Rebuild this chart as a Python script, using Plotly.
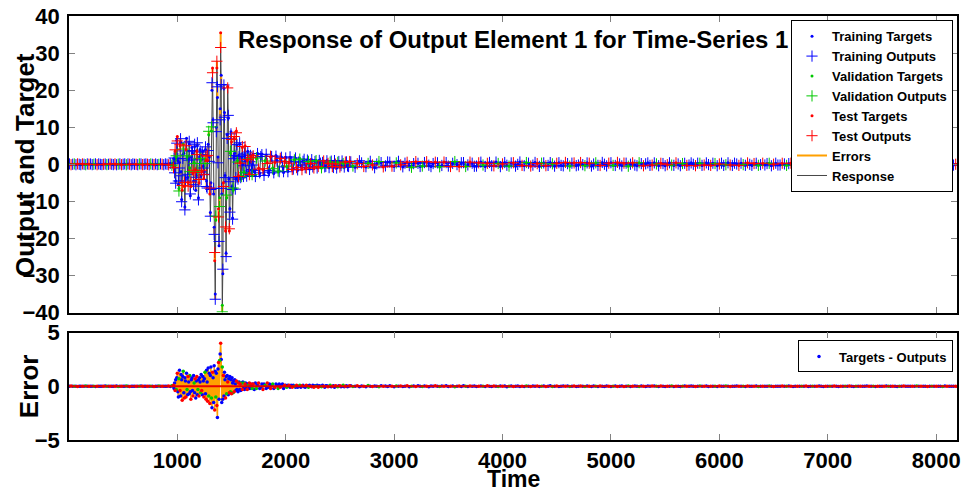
import plotly.graph_objects as go

# ---------------- data ----------------
# time grids of the sampled segments
time_pre = list(range(5, 951, 15))         # 64 samples, quiet start
time_burst = list(range(960, 1696, 5))     # 148 samples, strong motion
time_mid = list(range(1700, 2591, 10))     # 90 samples, decay
time_tail = list(range(2600, 8181, 20))    # 280 samples, quiet tail

target_pre = [0.1, -0.1, 0.0, 0.1, -0.1, 0.1, 0.0, -0.1, 0.1, 0.0, -0.1, 0.1, 0.0, 0.1, -0.1, 0.0,
              0.1, -0.1, 0.1, 0.0, -0.1, 0.0, 0.1, -0.1, 0.0, 0.1, 0.0, -0.1, 0.1, -0.1, 0.0, 0.1,
              -0.1, 0.0, 0.1, -0.1, 0.1, 0.0, -0.1, 0.1, 0.0, 0.0, -0.1, 0.1, 0.1, -0.1, 0.0, 0.1,
              0.0, -0.1, 0.1, 0.0, -0.1, 0.1, -0.1, 0.0, 0.1, 0.0, -0.1, 0.1, 0.0, -0.1, 0.2, -0.2]

target_burst = [0.3, -0.8, 1.5, -2.0, 3.5, -4.5, 2.0, 6.5,
                7.5, 1.0, -5.5, -6.5, 0.5, 5.0, 6.0, -2.0, -9.5, -7.0, 2.5, 5.5, 3.0, -6.0, -11.5, -4.0, 4.0, 7.0, 2.0, -3.5,
                -5.0, 1.5, 5.5, -1.0, -8.5, -6.0, 2.0, 4.5, 3.0, -2.5, -4.5, 0.5, 4.8, -1.5, -7.0, -3.0, 3.5, 5.0, -2.0, -9.0,
                -5.0, 2.0, 4.0, 1.0, -3.0, -2.0, 2.5, 3.5, -0.5, -3.8, -2.0, 1.5, 4.0, 1.0, -4.5, -6.0, 1.0, 5.4, 8.0, 2.0,
                -8.0, -13.0, -5.0, 9.0, 20.0, 26.0, 12.0, -8.0, -17.0, -26.0, -35.0, -15.0, 10.0, 26.0, 18.0, 2.0, -12.0, -22.0, -9.0, 15.0,
                35.5, 24.0, -8.0, -38.0, -29.5, -5.0, 20.5, 14.0, -3.0, -18.0, -24.0, -9.0, 8.0, 21.0, 12.4, -4.0, -18.0, -12.0, 3.0, 8.8,
                6.0, -6.0, -14.5, -7.0, 2.0, 7.0, 3.0, -6.5, -4.0, 9.0, 5.0, 1.0, -4.5, -3.0, 2.5, 5.5, 0.5, -4.0, -3.0, 2.0,
                4.5, 0.0, -3.5, -2.0, 2.5, 5.0, 1.0, -2.5, -3.0, 1.0, 3.5, 1.5, -2.0, -2.5, 0.5, 2.5, 2.0, -1.5, -3.0, 0.0]

target_mid = [2.5, -2.0, -3.0, 1.5, 3.0, -1.0, -2.5, 2.0, 2.8, -1.5,
              -2.8, 1.0, 2.5, 0.5, -2.2, -1.5, 2.0, 2.2, -1.0, -2.5,
              0.5, 2.4, 1.0, -2.0, -1.8, 1.5, 2.0, -0.5, -2.2, 0.8,
              1.8, -0.6, -1.9, 0.4, 1.9, 0.8, -1.5, -1.2, 1.2, 1.6,
              -0.8, -1.6, 0.6, 1.5, -0.3, -1.4, 0.9, 1.3, -1.0, -0.9,
              1.2, 0.7, -1.3, 0.2, 1.2, -0.6, -1.1, 0.8, 1.0, -0.9,
              -0.7, 1.1, 0.3, -1.0, 0.6, 0.9, -0.8, -0.5, 1.0, 0.2,
              -0.9, 0.7, 0.8, -0.6, -0.8, 0.9, 0.1, -1.0, 0.5, 0.8,
              -0.7, -0.4, 0.9, 0.3, -0.8, 0.6, 0.7, -0.5, -0.6, 0.8]

target_tail = [0.7, -0.5, -0.8, 0.2, 0.9, 0.4, -0.6, -0.7, 0.3, 0.8, -0.2, -0.9, 0.1, 0.7, 0.5, -0.7, -0.4, 0.6, 0.6, -0.5,
               -0.6, 0.4, 0.8, -0.1, -0.7, 0.3, 0.6, -0.4, -0.8, 0.2, 0.7, 0.3, -0.6, -0.5, 0.5, 0.7, -0.3, -0.6, 0.2, 0.6,
               0.4, -0.7, -0.3, 0.6, 0.5, -0.5, -0.6, 0.3, 0.7, -0.1, -0.6, 0.4, 0.5, -0.6, -0.2, 0.6, 0.3, -0.5, -0.5, 0.4,
               0.6, -0.2, -0.6, 0.3, 0.5, -0.4, -0.4, 0.6, 0.2, -0.6, 0.1, 0.5, -0.3, -0.5, 0.4, 0.4, -0.5, 0.0, 0.6, -0.3,
               -0.4, 0.5, 0.3, -0.5, -0.2, 0.5, 0.2, -0.6, 0.3, 0.4, -0.4, -0.3, 0.5, 0.1, -0.5, 0.3, 0.4, -0.3, -0.4, 0.5,
               0.2, -0.5, 0.3, 0.4, -0.4, -0.2, 0.5, -0.1, -0.4, 0.4, 0.3, -0.5, 0.1, 0.4, -0.3, -0.3, 0.5, 0.0, -0.4, 0.3,
               0.4, -0.3, -0.3, 0.5, 0.1, -0.4, 0.3, 0.3, -0.5, 0.0, 0.4, -0.2, -0.4, 0.4, 0.2, -0.4, 0.1, 0.4, -0.3, -0.2,
               0.4, 0.1, -0.4, 0.3, 0.2, -0.4, -0.1, 0.4, -0.2, -0.3, 0.4, 0.1, -0.4, 0.2, 0.3, -0.3, -0.2, 0.4, 0.0, -0.4,
               0.3, 0.3, -0.3, -0.2, 0.4, -0.1, -0.3, 0.3, 0.2, -0.4, 0.1, 0.3, -0.3, -0.1, 0.4, -0.2, -0.3, 0.3, 0.1, -0.3,
               0.3, -0.1, -0.3, 0.4, 0.0, -0.3, 0.2, 0.3, -0.3, -0.1, 0.3, -0.2, 0.2, 0.3, -0.4, 0.0, 0.3, -0.2, -0.2, 0.3,
               0.1, -0.3, 0.2, 0.3, -0.3, -0.1, 0.3, -0.1, -0.3, 0.2, 0.2, -0.3, 0.0, 0.3, -0.2, -0.2, 0.3, 0.1, -0.3, 0.2,
               0.2, -0.3, -0.1, 0.3, 0.0, -0.3, 0.2, 0.2, -0.3, 0.1, 0.3, -0.2, -0.2, 0.3, 0.0, -0.3, 0.2, 0.2, -0.2, -0.1,
               0.3, -0.1, -0.2, 0.3, 0.1, -0.3, 0.1, 0.2, -0.3, 0.0, 0.3, -0.2, -0.1, 0.3, -0.1, -0.2, 0.2, 0.2, -0.3, 0.1,
               0.2, -0.2, -0.2, 0.3, 0.0, -0.3, 0.2, 0.1, -0.2, -0.1, 0.3, -0.1, -0.2, 0.2, 0.1, -0.3, 0.1, 0.2, -0.2, 0.0]

error_pre = [0.0, 0.02, -0.01, 0.0, 0.01, -0.02, 0.0, 0.01, 0.0, -0.01, 0.02, 0.0, -0.01, 0.01, 0.0, 0.0,
             -0.02, 0.01, 0.0, 0.01, -0.01, 0.0, 0.02, -0.01, 0.0, 0.01, 0.0, -0.01, 0.0, 0.02, -0.02, 0.0,
             0.01, 0.0, -0.01, 0.02, 0.0, -0.02, 0.01, 0.0, 0.0, -0.01, 0.01, 0.0, 0.02, -0.01, 0.0, 0.01,
             -0.01, 0.0, 0.01, 0.0, -0.02, 0.01, 0.0, 0.02, -0.01, 0.0, 0.01, -0.01, 0.0, 0.03, -0.03, 0.05]

error_burst = [0.0, 0.1, -0.2, 0.3, -0.4, 0.6, -0.3, 0.8,
               1.2, -0.5, -1.0, 0.7, 1.5, -0.4, -0.9, 1.1, 0.6, -1.3, 0.9, 1.4, -0.6, -1.1, 0.8, 0.5, -1.0, 1.2, -0.3, -0.8,
               0.9, 0.4, -0.7, 1.0, -0.5, -1.2, 0.6, 0.8, -0.4, -0.9, 1.0, 0.3, -0.6, 0.7, -1.1, 0.5, 0.9, -0.8, -0.3, 0.6,
               -0.9, 0.8, 0.4, -0.6, 1.1, -0.4, -0.8, 0.9, 0.5, -1.0, 0.7, 1.3, -0.7, -1.2, 1.5, 0.4, -1.4, 1.7, -0.9, 1.2,
               -1.6, 1.0, 1.8, -1.1, -2.0, 1.3, 0.8, -1.5, 1.9, -2.2, 1.4, -1.0, 1.2, -1.8, -2.9, 1.6, 2.2, -1.2, 2.4, 3.0,
               4.0, 2.5, -1.5, 1.8, -1.2, 1.0, -0.9, 1.3, 0.6, -1.1, 0.9, -0.7, 1.0, 0.4, -0.8, 0.7, -0.6, 0.9, -0.5, 0.6,
               -0.7, 0.8, 0.3, -0.6, 0.5, -0.5, 0.6, 0.2, -0.4, 0.5, -0.3, 0.4, -0.5, 0.3, 0.4, -0.3, 0.2, -0.4, 0.3, 0.3,
               -0.3, 0.4, -0.2, 0.3, -0.3, 0.2, 0.3, -0.2, 0.2, -0.3, 0.2, 0.1, -0.2, 0.3, -0.2, 0.1, 0.2, -0.1, -0.2, 0.2]

error_mid = [0.2, -0.3, 0.3, -0.2, 0.1, 0.3, -0.2, -0.1, 0.2, -0.3,
             0.2, 0.1, -0.2, 0.3, -0.1, 0.2, -0.2, 0.1, 0.2, -0.2,
             -0.1, 0.2, 0.1, -0.2, 0.2, -0.1, 0.1, 0.2, -0.2, 0.1,
             0.1, -0.1, 0.1, 0.1, -0.1, 0.1, -0.1, 0.1, 0.0, -0.1,
             0.1, -0.1, 0.0, 0.1, -0.1, 0.05, 0.1, -0.05, -0.1, 0.1,
             0.05, -0.1, 0.1, 0.0, -0.05, 0.1, -0.1, 0.05, 0.0, 0.1,
             -0.1, 0.05, 0.0, -0.05, 0.1, 0.0, -0.1, 0.05, 0.05, -0.05,
             0.0, 0.1, -0.05, 0.0, 0.05, -0.1, 0.05, 0.0, -0.05, 0.05,
             0.05, -0.05, 0.0, 0.1, -0.05, 0.0, 0.05, -0.05, 0.0, 0.05]

error_tail = [0.05, -0.03, 0.0, 0.04, -0.05, 0.02, 0.0, -0.04, 0.06, 0.0, -0.02, 0.03, 0.0, -0.05, 0.04, 0.0, 0.02, -0.03, 0.05, 0.0,
              -0.04, 0.02, 0.0, 0.03, -0.02, 0.0, 0.05, -0.04, 0.0, 0.02, -0.03, 0.04, 0.0, -0.02, 0.03, 0.0, -0.05, 0.02, 0.0, 0.04,
              0.0, -0.03, 0.02, 0.0, 0.04, -0.02, 0.0, 0.03, -0.04, 0.0, 0.02, -0.02, 0.05, 0.0, -0.03, 0.02, 0.0, 0.03, -0.02, 0.0,
              0.03, 0.0, -0.02, 0.04, 0.0, -0.03, 0.02, 0.0, -0.02, 0.03, 0.0, 0.02, -0.04, 0.0, 0.03, -0.02, 0.0, 0.02, -0.03, 0.0,
              -0.02, 0.03, 0.0, -0.02, 0.02, 0.0, 0.03, -0.03, 0.0, 0.02, -0.02, 0.0, 0.04, -0.02, 0.0, 0.02, -0.03, 0.0, 0.02, 0.0,
              0.02, -0.02, 0.0, 0.03, -0.02, 0.0, 0.02, 0.0, -0.03, 0.02, 0.0, -0.02, 0.03, 0.0, -0.02, 0.02, 0.0, -0.02, 0.03, 0.0,
              -0.02, 0.0, 0.02, -0.02, 0.0, 0.03, -0.02, 0.0, 0.02, -0.02, 0.0, 0.02, 0.0, -0.03, 0.02, 0.0, -0.02, 0.02, 0.0, 0.02,
              0.02, 0.0, -0.02, 0.03, 0.0, -0.02, 0.01, 0.0, 0.02, -0.02, 0.0, 0.01, -0.02, 0.0, 0.03, 0.0, -0.01, 0.02, 0.0, -0.02,
              0.0, 0.02, -0.01, 0.0, 0.02, -0.02, 0.0, 0.01, 0.0, -0.02, 0.02, 0.0, -0.01, 0.02, 0.0, -0.02, 0.01, 0.0, 0.02, -0.01,
              0.01, 0.0, -0.02, 0.02, 0.0, -0.01, 0.0, 0.02, -0.02, 0.0, 0.01, -0.01, 0.0, 0.02, 0.0, -0.02, 0.01, 0.0, -0.01, 0.02,
              0.0, -0.01, 0.02, 0.0, -0.02, 0.01, 0.0, 0.01, -0.01, 0.0, 0.02, -0.02, 0.0, 0.01, 0.0, -0.01, 0.02, 0.0, -0.02, 0.01,
              0.01, 0.0, -0.01, 0.02, 0.0, -0.02, 0.0, 0.01, -0.01, 0.0, 0.02, 0.0, -0.02, 0.01, 0.0, -0.01, 0.01, 0.0, 0.02, -0.01,
              0.0, 0.01, -0.02, 0.0, 0.01, 0.0, -0.01, 0.02, 0.0, -0.01, 0.01, 0.0, -0.02, 0.01, 0.0, 0.02, -0.01, 0.0, 0.01, 0.0,
              -0.01, 0.02, 0.0, -0.01, 0.0, 0.01, -0.02, 0.0, 0.01, 0.0, -0.01, 0.01, 0.0, -0.02, 0.02, 0.0, -0.01, 0.0, 0.01, -0.01]

# data division pattern (training / validation / test), repeated over the samples
split_pattern = ["train", "test", "train", "val", "train", "test", "train", "train", "test", "train",
                 "val", "train", "test", "train", "train", "val", "train", "test", "train", "train"]

split_names = ["train", "val", "test"]
split_colors = {"train": "rgb(0,0,255)", "val": "rgb(0,200,0)", "test": "rgb(255,0,0)"}
split_labels = {"train": "Training", "val": "Validation", "test": "Test"}

tick_times = [1000, 2000, 3000, 4000, 5000, 6000, 7000, 8000]
ticks_response = [-40, -30, -20, -10, 0, 10, 20, 30, 40]
ticks_error = [-5, 0, 5]

# ---------------- assemble ----------------
time = time_pre + time_burst + time_mid + time_tail
targets = target_pre + target_burst + target_mid + target_tail
errors = error_pre + error_burst + error_mid + error_tail
outputs = [t - e for t, e in zip(targets, errors)]
splits = [split_pattern[i % len(split_pattern)] for i in range(len(time))]

FONT = "Liberation Sans"
ORANGE = "rgb(255,160,0)"

fig = go.Figure()

# Response line (outputs connected)
fig.add_trace(go.Scatter(x=time, y=outputs, mode="lines", name="Response",
                         line=dict(color="rgb(70,70,70)", width=1), legendrank=8,
                         xaxis="x", yaxis="y", legend="legend"))

# Error segments target -> output
ex, ey = [], []
for t, a, b in zip(time, targets, outputs):
    ex += [t, t, None]
    ey += [a, b, None]
fig.add_trace(go.Scatter(x=ex, y=ey, mode="lines", name="Errors",
                         line=dict(color=ORANGE, width=2), legendrank=7,
                         xaxis="x", yaxis="y", legend="legend"))

for k, s in enumerate(split_names):
    xs = [t for t, sp in zip(time, splits) if sp == s]
    ys_o = [o for o, sp in zip(outputs, splits) if sp == s]
    ys_t = [o for o, sp in zip(targets, splits) if sp == s]
    col = split_colors[s]
    fig.add_trace(go.Scatter(x=xs, y=ys_o, mode="markers", name=split_labels[s] + " Outputs",
                             marker=dict(symbol="cross-thin", size=8, color=col,
                                         line=dict(color=col, width=1)),
                             legendrank=2 + 2 * k, xaxis="x", yaxis="y", legend="legend"))
    fig.add_trace(go.Scatter(x=xs, y=ys_t, mode="markers", name=split_labels[s] + " Targets",
                             marker=dict(symbol="circle", size=3, color=col),
                             legendrank=1 + 2 * k, xaxis="x", yaxis="y", legend="legend"))

# ---- error panel ----
fig.add_trace(go.Scatter(x=time, y=errors, mode="lines", showlegend=False,
                         line=dict(color=ORANGE, width=1.5), xaxis="x2", yaxis="y2"))
for k, s in enumerate(split_names):
    xs = [t for t, sp in zip(time, splits) if sp == s]
    ys_e = [e for e, sp in zip(errors, splits) if sp == s]
    fig.add_trace(go.Scatter(x=xs, y=ys_e, mode="markers", name="Targets - Outputs",
                             marker=dict(symbol="circle", size=3.5, color=split_colors[s]),
                             showlegend=(s == "train"), xaxis="x2", yaxis="y2", legend="legend2"))

# zero line of the error panel
fig.add_shape(type="line", xref="x2 domain", yref="y2", x0=0, x1=1, y0=0, y1=0,
              line=dict(color="rgb(230,0,0)", width=2), layer="above")

tickfont = dict(family=FONT, size=22, color="black", weight="bold")
axis_common = dict(showline=True, linecolor="black", linewidth=1.5, mirror="ticks",
                   ticks="inside", ticklen=6, tickcolor="rgb(130,130,130)", tickwidth=1,
                   showgrid=False, zeroline=False, tickfont=tickfont)

legend_font = dict(family=FONT, size=13, color="black", weight="bold")

fig.update_layout(
    width=965, height=491,
    margin=dict(l=69, r=4, t=14, b=51),
    paper_bgcolor="white", plot_bgcolor="white",
    xaxis=dict(domain=[0, 1], range=[1, 8192], tickvals=tick_times, showticklabels=False,
               anchor="y", **axis_common),
    yaxis=dict(domain=[0.3005, 1], range=[-40, 40], tickvals=ticks_response, anchor="x",
               ticklabelstandoff=3, **axis_common),
    xaxis2=dict(domain=[0, 1], range=[1, 8192], tickvals=tick_times, anchor="y2",
                matches="x", ticklabelstandoff=0, **axis_common),
    yaxis2=dict(domain=[0, 0.2535], range=[-5, 5], tickvals=ticks_error, anchor="x2",
                ticklabelstandoff=3, **axis_common),
    legend=dict(x=0.9955, xanchor="right", y=0.99, yanchor="top", bgcolor="white",
                bordercolor="black", borderwidth=1, font=legend_font, itemwidth=30,
                tracegroupgap=0),
    legend2=dict(x=0.9955, xanchor="right", y=0.2347, yanchor="top", bgcolor="white",
                 bordercolor="black", borderwidth=1, font=legend_font, itemwidth=30),
    showlegend=True,
    annotations=[
        dict(text="Response of Output Element 1 for Time-Series 1", xref="paper", yref="paper",
             x=0.5, y=0.944, xanchor="center", yanchor="middle", showarrow=False,
             font=dict(family=FONT, size=24, color="black", weight="bold")),
        dict(text="Output and Target", xref="paper", yref="paper", x=-0.049, y=0.65,
             xanchor="center", yanchor="middle", textangle=-90, showarrow=False,
             font=dict(family=FONT, size=26, color="black", weight="bold")),
        dict(text="Error", xref="paper", yref="paper", x=-0.045, y=0.127,
             xanchor="center", yanchor="middle", textangle=-90, showarrow=False,
             font=dict(family=FONT, size=26, color="black", weight="bold")),
        dict(text="Time", xref="paper", yref="paper", x=0.5, y=-0.0915,
             xanchor="center", yanchor="middle", showarrow=False,
             font=dict(family=FONT, size=23, color="black", weight="bold")),
    ],
)

fig.write_html("out.html", config={"displayModeBar": False},
               post_script="document.body.style.margin='0px';"
                           "document.documentElement.style.overflow='hidden';")
